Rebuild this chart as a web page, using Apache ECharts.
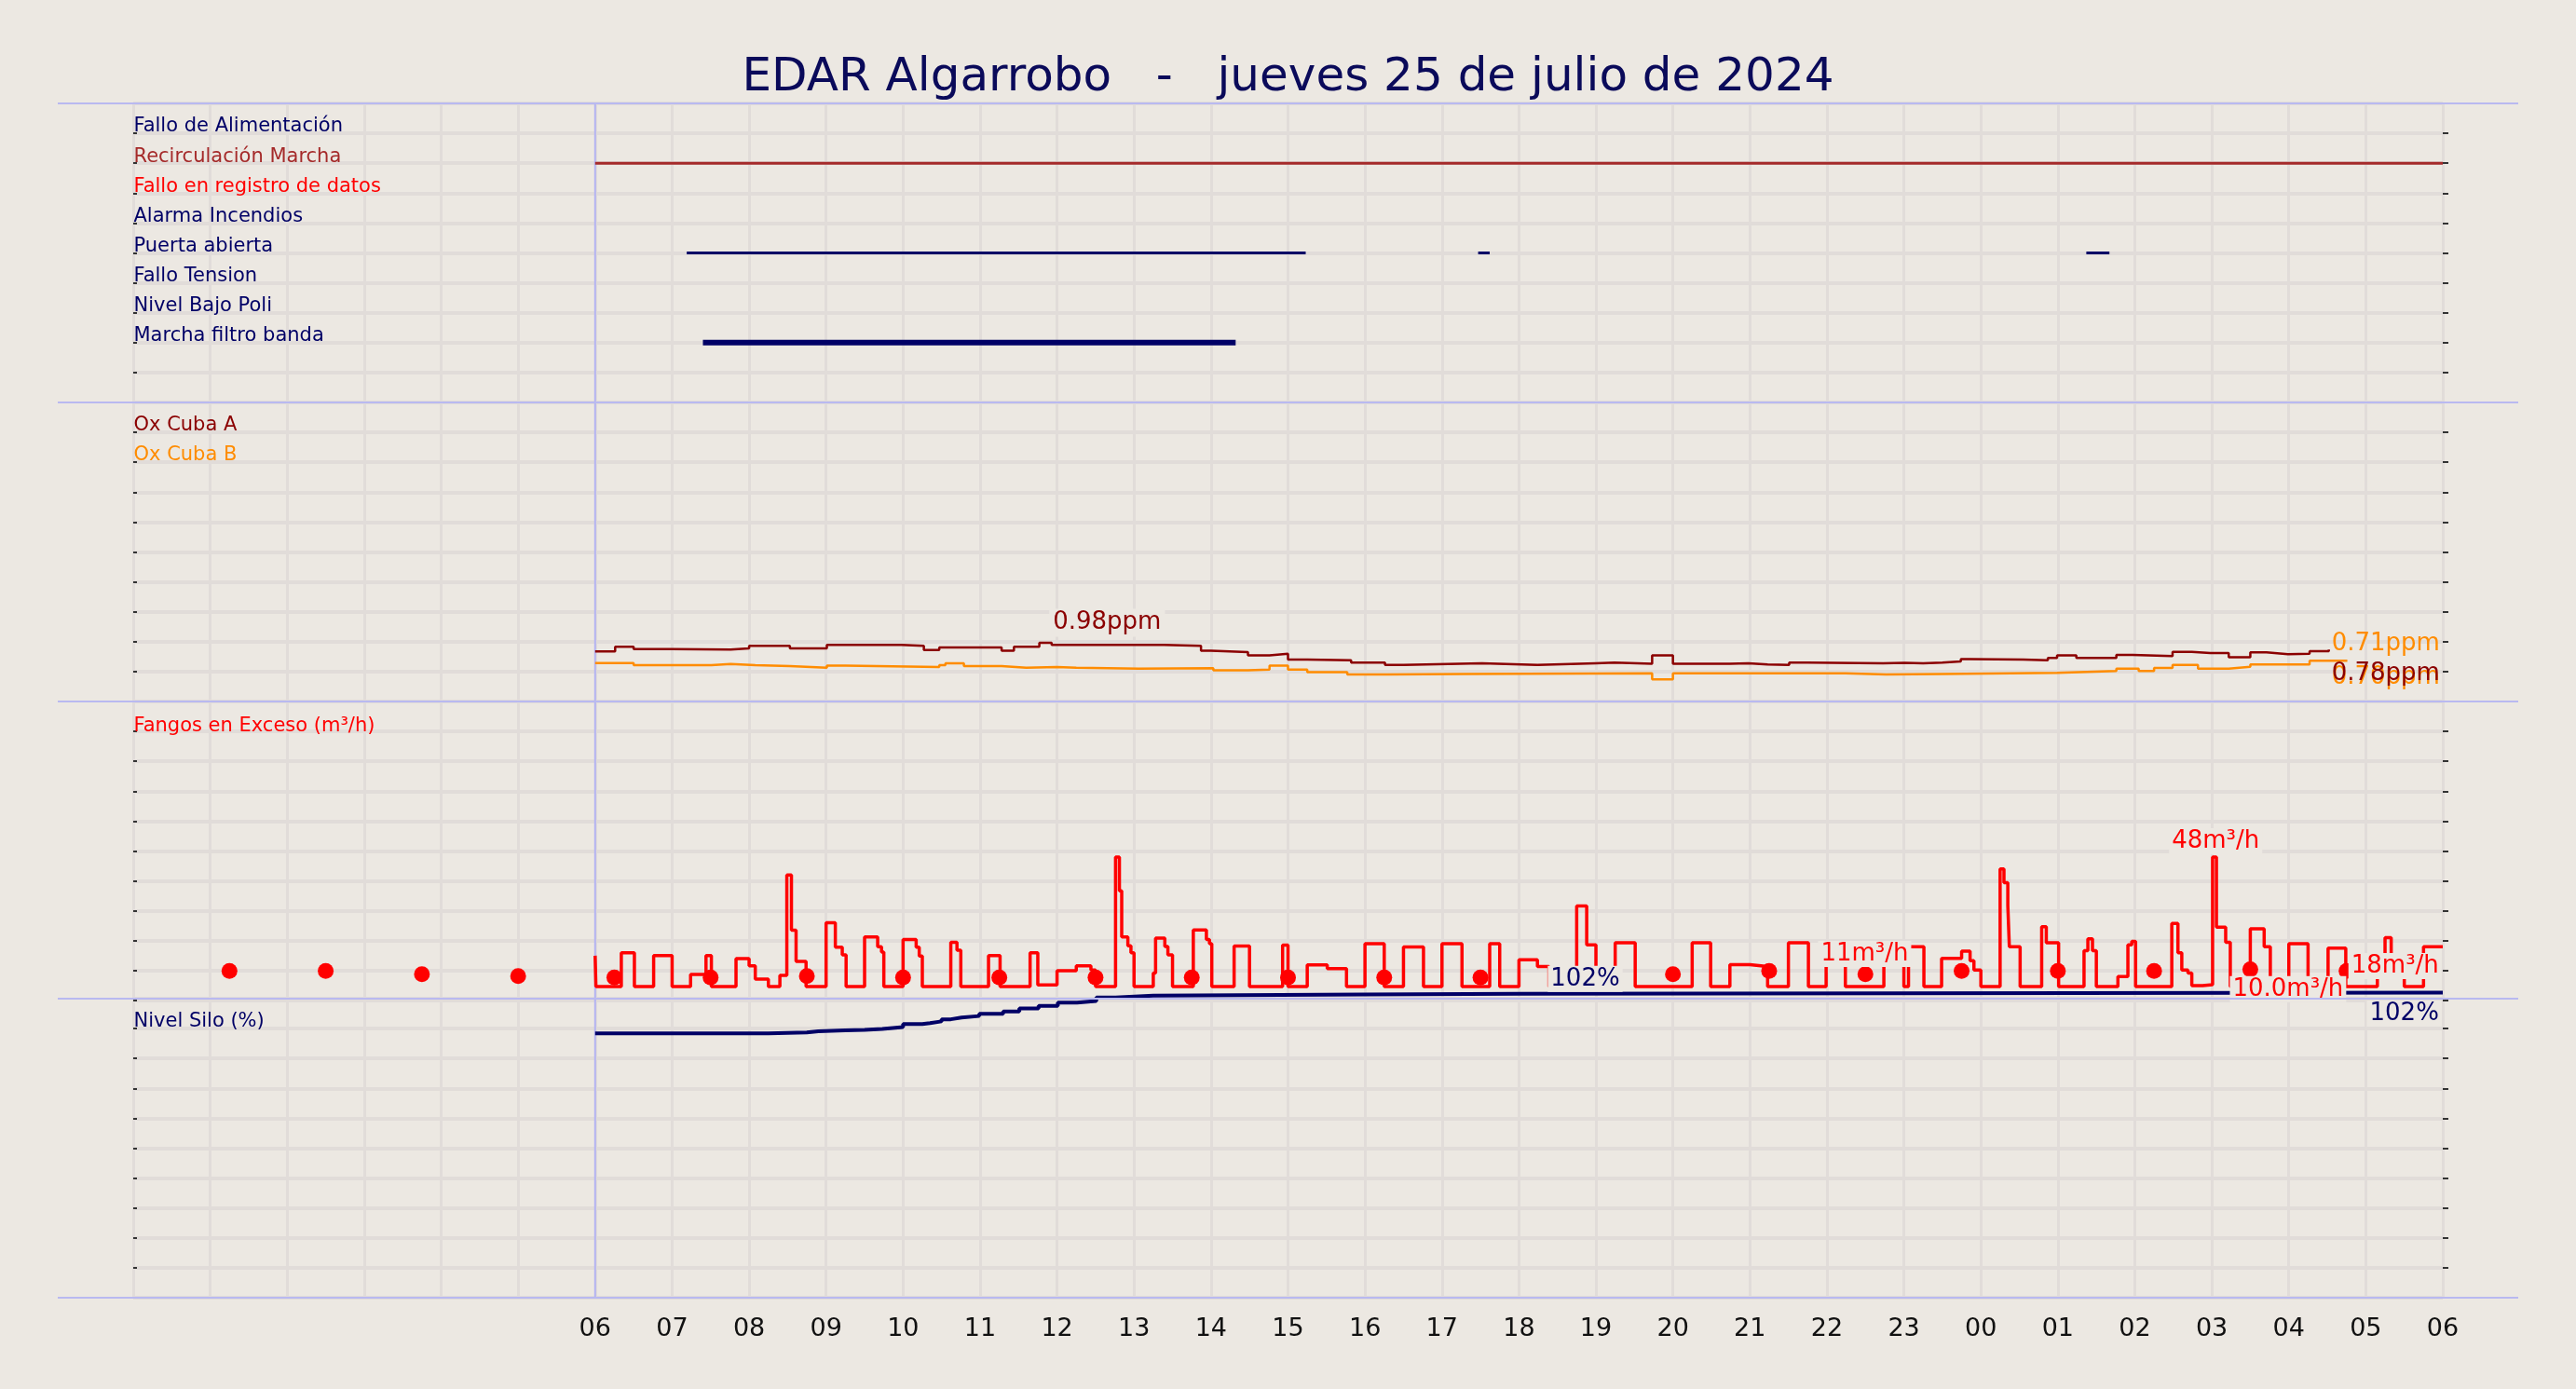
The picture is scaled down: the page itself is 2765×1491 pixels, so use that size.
<!DOCTYPE html>
<html><head><meta charset="utf-8">
<script src="https://cdn.jsdelivr.net/npm/echarts@6/dist/echarts.min.js"></script>
<style>html,body{margin:0;padding:0;background:#ece8e2;}#c{width:2765px;height:1491px;}</style>
</head><body><div id="c"></div>
<script>
const BG = '#ece8e2';
const title = 'EDAR Algarrobo   -   jueves 25 de julio de 2024';
const hourTicks = [6,7,8,9,10,11,12,13,14,15,16,17,18,19,20,21,22,23,24,25,26,27,28,29,30];
// Top panel: digital signals
const digitalNames = ['Fallo de Alimentación','Recirculación Marcha','Fallo en registro de datos','Alarma Incendios','Puerta abierta','Fallo Tension','Nivel Bajo Poli','Marcha filtro banda'];
const digitalColors = ['#000066','#a52a2a','#ff0000','#000066','#000066','#000066','#000066','#000066'];
const recircOn = [[6,30]];
const puertaOn = [[7.19,15.23],[17.47,17.62],[25.37,25.67]];
const filtroOn = [[7.40,14.32]];
// Oxygen (ppm)
const oxA = [[6.0,0.836],[6.26,0.914],[6.5,0.877],[6.99,0.867],[7.76,0.888],[8.0,0.93],[8.53,0.888],[9.01,0.945],[9.98,0.93],[10.27,0.862],[10.47,0.904],[11.28,0.85],[11.44,0.914],[11.77,0.98],[11.93,0.945],[13.39,0.93],[13.87,0.85],[14.0,0.826],[14.48,0.77],[14.76,0.8],[15.0,0.70],[15.25,0.69],[15.82,0.65],[16.26,0.61],[16.5,0.64],[17.52,0.61],[18.24,0.64],[19.0,0.65],[19.24,0.63],[19.73,0.77],[20.0,0.63],[20.74,0.64],[20.98,0.62],[21.23,0.61],[21.51,0.65],[21.75,0.64],[22.73,0.645],[23.01,0.64],[23.25,0.65],[23.5,0.67],[23.74,0.71],[23.86,0.70],[24.55,0.69],[24.87,0.73],[24.99,0.77],[25.24,0.73],[25.76,0.78],[25.97,0.76],[26.49,0.83],[26.74,0.81],[26.98,0.81],[27.22,0.74],[27.5,0.82],[27.71,0.79],[27.99,0.80],[28.27,0.84],[28.52,0.87]];
const oxB = [[6.0,0.643],[6.5,0.607],[7.51,0.627],[7.76,0.607],[8.08,0.59],[8.53,0.565],[9.01,0.60],[9.25,0.575],[10.47,0.607],[10.55,0.64],[10.79,0.59],[11.28,0.565],[11.6,0.575],[12.0,0.565],[12.25,0.55],[13.06,0.555],[14.03,0.52],[14.48,0.535],[14.76,0.60],[15.0,0.535],[15.25,0.49],[15.77,0.45],[16.3,0.46],[17.27,0.47],[19.73,0.37],[20.0,0.47],[22.24,0.45],[22.77,0.46],[23.5,0.48],[24.99,0.51],[25.76,0.55],[26.05,0.51],[26.25,0.56],[26.49,0.61],[26.82,0.55],[27.22,0.58],[27.5,0.62],[28.27,0.68],[28.76,0.69]];
// Fangos en exceso (m3/h)
const fangos = [[6.0,15],[6.01,4.7],[6.34,16],[6.51,4.7],[6.76,15],[7.0,4.7],[7.24,8.7],[7.44,15],[7.51,4.7],[7.83,14],[8.0,11.6],[8.08,7.2],[8.25,4.7],[8.4,8.4],[8.49,42],[8.55,23.5],[8.61,13.1],[8.74,4.7],[9.0,26],[9.12,17.8],[9.21,15.3],[9.26,4.7],[9.5,21.3],[9.67,18],[9.72,16.2],[9.75,4.7],[10.0,20.4],[10.17,17.8],[10.21,14.9],[10.25,4.7],[10.62,19.5],[10.7,16.8],[10.75,4.7],[11.11,15],[11.26,4.7],[11.65,16],[11.75,5.2],[12.0,10],[12.25,11.6],[12.44,10.2],[12.5,4.7],[12.76,48],[12.81,36.7],[12.84,21.3],[12.92,18.3],[12.96,16],[13.0,4.7],[13.25,9.2],[13.28,20.9],[13.4,18.1],[13.44,15.3],[13.5,4.7],[13.77,23.6],[13.94,20.4],[13.98,19],[14.01,4.7],[14.3,18.2],[14.5,4.7],[14.93,18.5],[15.0,4.7],[15.25,11.9],[15.51,10.7],[15.76,4.7],[16.0,19],[16.25,4.7],[16.5,17.9],[16.76,4.7],[17.0,19],[17.26,4.7],[17.62,19],[17.75,4.7],[18.0,13.6],[18.24,11.4],[18.39,4.7],[18.75,31.6],[18.88,18.6],[19.0,4.7],[19.25,19.3],[19.51,4.7],[20.25,19.3],[20.49,4.7],[20.74,12],[21.0,11.4],[21.23,4.7],[21.5,19.3],[21.76,4.7],[21.99,19],[22.24,4.7],[22.74,19],[23.0,4.7],[23.06,18],[23.26,4.7],[23.49,14.1],[23.75,16.5],[23.86,13.3],[23.91,10.2],[24.0,4.7],[24.25,44],[24.3,39.4],[24.35,31.8],[24.37,18],[24.51,4.7],[24.79,24.7],[24.85,19.3],[25.01,4.7],[25.34,16.7],[25.39,20.6],[25.45,16.7],[25.5,4.7],[25.78,8],[25.91,18.6],[25.96,19.8],[26.01,4.7],[26.48,25.8],[26.56,16],[26.61,10.2],[26.69,9.2],[26.74,5],[26.88,5.3],[27.01,48],[27.06,24.5],[27.18,19.5],[27.24,4.7],[27.5,24],[27.68,18],[27.76,4.7],[28.0,19],[28.25,4.7],[28.51,17.5],[28.74,4.7],[29.15,9],[29.25,21],[29.33,9.5],[29.5,4.7],[29.75,18],[30,18]];
const fangosDots = [[1.25,9.9],[2.5,9.9],[3.75,8.8],[5,8.2],[6.25,7.7],[7.5,7.7],[8.75,8.2],[10,7.7],[11.25,7.7],[12.5,7.7],[13.75,7.7],[15,7.7],[16.25,7.7],[17.5,7.7],[20,8.8],[21.25,9.9],[22.5,8.8],[23.75,9.9],[25,9.9],[26.25,9.9],[27.5,10.4],[28.75,9.9]];
// Nivel silo (%)
const silo = [[6,88.4],[8.25,88.7],[8.75,89.1],[8.9,89.4],[9.25,89.6],[9.5,89.9],[9.73,90.5],[10.0,91.5],[10.25,91.8],[10.35,92.4],[10.5,93.1],[10.62,93.7],[10.76,94.2],[10.99,94.9],[11.3,95.7],[11.51,96.7],[11.76,97.6],[12.01,98.7],[12.26,99.2],[12.51,100.4],[12.76,101.0],[13.25,101.4],[16.0,101.6],[18.0,102],[30,102]];
// value annotations
const oxLabels = [{p:[12.65,0.98],t:'0.98ppm',c:'#8b0000',pos:'top'},{p:[28.55,0.96],t:'0.71ppm',c:'#ff8c00',pos:'right'},{p:[28.55,0.40],t:'0.70ppm',c:'#ff8c00',pos:'right'},{p:[28.55,0.47],t:'0.78ppm',c:'#8b0000',pos:'right'}];
const fangosLabels = [{p:[27.05,53.3],t:'48m³/h'},{p:[22.49,15.6],t:'11m³/h'},{p:[27.99,3.8],t:'10.0m³/h'},{p:[29.38,11.5],t:'18m³/h'}];
const siloLabels = [{p:[18.86,106.6],t:'102%'},{p:[29.5,95],t:'102%'}];

const L = 143, R = 143, tops = [111,432,753,1072], H = 321;
const FONT = 'DejaVu Sans';
const TR = 'rgba(0,0,0,0)';
const grids = tops.map(t => ({left:L, right:R, top:t, height:H, show:false}));
const splitX = {show:true, lineStyle:{color:'#e1dcd9', width:3}};
const xAxes = tops.map((t,i) => ({type:'value', gridIndex:i, min:0, max:30, interval:1,
  axisLine:{show:false}, axisTick:{show:false}, splitLine:splitX,
  axisLabel:{show:i===3, fontFamily:FONT, fontSize:27, color:'#111', margin:20,
    formatter:v => hourTicks.includes(v) ? String(v%24).padStart(2,'0') : ''}}));
const yBase = (i,min,max,itv,inv,pos,split) => ({type:'value', gridIndex:i, min, max, interval:itv, inverse:!!inv, position:pos,
  axisLine:{show:false}, axisLabel:{show:false}, axisTick:{show:true, inside:pos==='left', length:pos==='left'?4:6, lineStyle:{color:'#333', width:2}},
  splitLine:{show:split, lineStyle:{color:'#e1dcd9', width:4}}});
const yAxes = [yBase(0,0,10,1,true,'left',true), yBase(1,0,5,0.5,false,'left',true), yBase(2,0,100,10,false,'left',true), yBase(3,0,100,10,false,'left',true),
  yBase(0,0,10,1,true,'right',false), yBase(1,0,5,0.5,false,'right',false), yBase(2,0,100,10,false,'right',false), yBase(3,0,100,10,false,'right',false)];

const series = [];
function txt(gi, p, t, color, pos, bg, size){
  series.push({type:'scatter', xAxisIndex:gi, yAxisIndex:gi, symbolSize:1, itemStyle:{color:TR}, silent:true, z:10, clip:false,
    data:[p], label:{show:true, opacity:1, position:pos, distance:pos==='top'?6:0, formatter:t, color, fontFamily:FONT, fontSize:size||26,
      backgroundColor:bg||'transparent', padding:bg?[2,4]:0}});
}
for (let i=0;i<4;i++){
  const ymax = [10,5,100,100][i];
  series.push({type:'line', xAxisIndex:i, yAxisIndex:i, data:[[6,0],[6,ymax]], symbol:'none', lineStyle:{color:'#b4b4f2', width:2}, z:1, silent:true});
}
digitalNames.forEach((n,k) => txt(0,[0,k+1-0.22],n,digitalColors[k],'right',null,21));
function segs(list,row,color,w){ list.forEach(s => series.push({type:'line', xAxisIndex:0, yAxisIndex:0, data:[[s[0],row],[s[1],row]], symbol:'none', lineStyle:{color, width:w}, z:5})); }
segs(recircOn,2,'#a52a2a',3);
segs(puertaOn,5,'#000066',3);
segs(filtroOn,8,'#000066',6);
txt(1,[0,4.62],'Ox Cuba A','#8b0000','right',null,21);
txt(1,[0,4.12],'Ox Cuba B','#ff8c00','right',null,21);
series.push({type:'line', xAxisIndex:1, yAxisIndex:1, data:oxB, step:'end', symbol:'none', lineStyle:{color:'#ff8c00', width:2.5}, z:5});
series.push({type:'line', xAxisIndex:1, yAxisIndex:1, data:oxA, step:'end', symbol:'none', lineStyle:{color:'#8b0000', width:2.5}, z:6});
oxLabels.forEach(o => txt(1,o.p,o.t,o.c,o.pos,o.pos==='top'?BG:null,26));
txt(2,[0,91.8],'Fangos en Exceso (m³/h)','#ff0000','right',null,21);
series.push({type:'line', xAxisIndex:2, yAxisIndex:2, data:fangos, step:'end', symbol:'none', lineStyle:{color:'#ff0000', width:3.5}, z:5});
series.push({type:'scatter', xAxisIndex:2, yAxisIndex:2, data:fangosDots, symbolSize:17, itemStyle:{color:'#ff0000', opacity:1}, z:6});
txt(3,[0,92.3],'Nivel Silo (%)','#000066','right',null,21);
series.push({type:'line', xAxisIndex:3, yAxisIndex:3, data:silo, step:'end', symbol:'none', clip:false, lineStyle:{color:'#000066', width:4}, z:7});
fangosLabels.forEach(o => series.push({type:'scatter', xAxisIndex:2, yAxisIndex:2, symbolSize:1, itemStyle:{color:TR}, z:11, clip:false, data:[o.p],
  label:{show:true, opacity:1, position:'inside', formatter:o.t, color:'#ff0000', fontFamily:FONT, fontSize:26, backgroundColor:BG, padding:[1,3]}}));
siloLabels.forEach(o => series.push({type:'scatter', xAxisIndex:3, yAxisIndex:3, symbolSize:1, itemStyle:{color:TR}, z:11, clip:false, data:[o.p],
  label:{show:true, opacity:1, position:'inside', formatter:o.t, color:'#000066', fontFamily:FONT, fontSize:26, backgroundColor:BG, padding:[1,3]}}));

const sepYs = [111,432,753,1072,1393];
const graphic = sepYs.map(y => ({type:'line', z:100, shape:{x1:62,y1:y,x2:2703,y2:y}, style:{stroke:'#b9b9f0', lineWidth:2}}));

const chart = echarts.init(document.getElementById('c'));
chart.setOption({
  backgroundColor:BG, animation:false,
  title:{text:title, left:'center', top:54, textStyle:{fontFamily:FONT, fontSize:50, fontWeight:'normal', color:'#0a0a5a'}},
  grid:grids, xAxis:xAxes, yAxis:yAxes, series, graphic
});
</script></body></html>
